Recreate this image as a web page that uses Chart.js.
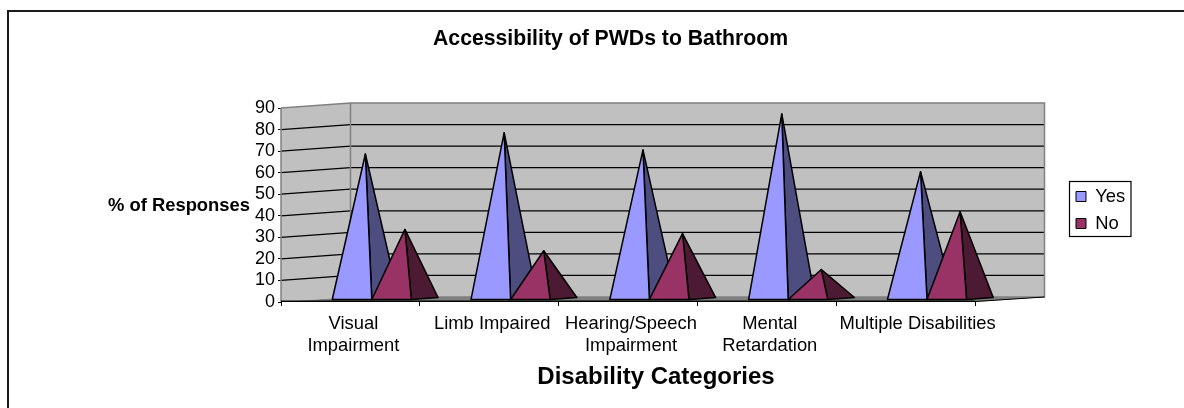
<!DOCTYPE html>
<html><head><meta charset="utf-8">
<style>html,body{margin:0;padding:0;background:#fff;overflow:hidden}canvas{display:block}</style>
<script src="https://cdn.jsdelivr.net/npm/chart.js@4"></script></head>
<body><canvas id="c" width="1184" height="408"></canvas>
<script>
const categories=[["Visual","Impairment"],"Limb Impaired",["Hearing/Speech","Impairment"],["Mental","Retardation"],"Multiple Disabilities"];
const yesValues=[67.5,77.4,69.4,86.1,59.3];
const noValues=[32.5,22.6,30.6,13.9,40.7];
const seriesNames=["Yes","No"];
const frontColors=["#9999FF","#993366"];
const sideColors=["#4D4D80","#4D1A33"];
const chartTitle="Accessibility of PWDs to Bathroom";
const xTitle="Disability Categories";
const yTitle="% of Responses";
const FONT='"Liberation Sans", Arial, sans-serif';
const DEPTH_X=69.5, DEPTH_Y=5;
const NEAR=0.308, FAR=0.692;

class PyramidController extends Chart.BarController{
  draw(){
    if(this.index!==0) return;
    const ch=this.chart,c=ch.ctx;
    c.save();c.lineJoin="round";c.lineWidth=1.5;c.strokeStyle="#000";
    ch.data.datasets.forEach((d,i)=>{
      ch.getDatasetMeta(i).data.forEach(e=>{
        const hw=e.width/2, fy=e.base-DEPTH_Y*NEAR-.5, by=e.base-DEPTH_Y*FAR-.5;
        const fl=e.x-hw+DEPTH_X*NEAR, fr=e.x+hw+DEPTH_X*NEAR, br=e.x+hw+DEPTH_X*FAR;
        const ax=e.x+DEPTH_X*.5, ay=e.y-DEPTH_Y*.5;
        c.fillStyle=d.sideColor;
        c.beginPath();c.moveTo(fr,fy);c.lineTo(br,by);c.lineTo(ax,ay);c.closePath();c.fill();c.stroke();
        c.fillStyle=d.backgroundColor;
        c.beginPath();c.moveTo(fl,fy);c.lineTo(fr,fy);c.lineTo(ax,ay);c.closePath();c.fill();c.stroke();
      });
    });
    c.restore();
  }
}
PyramidController.id="pyramid";
PyramidController.defaults=Chart.BarController.defaults;
PyramidController.overrides=Chart.BarController.overrides;
Chart.register(PyramidController);

const wall3d={id:"wall3d",
  afterLayout(ch){
    const lg=ch.legend; lg.left=1067.4;lg.right=1131;lg.top=178.7;lg.bottom=245;
    const tb=ch.titleBlock; tb.left=433;tb.right=788;
  },
  beforeDraw(ch){
    const items=ch.scales.x.getLabelItems();
    if(items[4]&&!items[4].shifted){items[4].options.translation[0]+=9;items[4].shifted=true;}
    const c=ch.ctx;c.save();c.fillStyle="#fff";c.fillRect(0,0,ch.width,ch.height);
    c.lineWidth=2;c.strokeStyle="#1a1a1a";
    c.beginPath();c.moveTo(8,ch.height);c.lineTo(8,11);c.lineTo(ch.width,11);c.stroke();
    c.fillStyle="#000";c.textBaseline="middle";
    c.font="bold 18.4px "+FONT;c.textAlign="center";c.fillText(yTitle,179,206);
    c.font="bold 24px "+FONT;c.fillText(xTitle,656,377.5);
    c.strokeStyle="#000";c.lineWidth=1.2;c.strokeRect(1069.5,181.5,61.5,55);
    c.restore();
  },
  beforeDatasetsDraw(ch){
    const c=ch.ctx,{left:l,right:r,top:t,bottom:b}=ch.chartArea,y=ch.scales.y;
    c.save();
    c.fillStyle="#C0C0C0";
    c.beginPath();c.moveTo(l,b);c.lineTo(l+DEPTH_X,b-DEPTH_Y);c.lineTo(r+DEPTH_X,b-DEPTH_Y);c.lineTo(r+DEPTH_X,t-DEPTH_Y);c.lineTo(l+DEPTH_X,t-DEPTH_Y);c.lineTo(l,t);c.closePath();c.fill();
    c.fillStyle="#808080";
    c.beginPath();c.moveTo(l,b);c.lineTo(l+DEPTH_X,b-DEPTH_Y);c.lineTo(r+DEPTH_X,b-DEPTH_Y);c.lineTo(r,b);c.closePath();c.fill();
    c.lineWidth=1.2;c.strokeStyle="#000";
    y.ticks.forEach(k=>{ if(k.value===y.min||k.value===y.max) return;
      const p=y.getPixelForValue(k.value);
      c.beginPath();c.moveTo(l,p);c.lineTo(l+DEPTH_X,p-DEPTH_Y);c.lineTo(r+DEPTH_X,p-DEPTH_Y);c.stroke();});
    c.strokeStyle="#808080";c.lineWidth=1.5;
    c.beginPath();c.moveTo(l,t);c.lineTo(l+DEPTH_X,t-DEPTH_Y);c.lineTo(r+DEPTH_X,t-DEPTH_Y);c.lineTo(r+DEPTH_X,b-DEPTH_Y);c.lineTo(l+DEPTH_X,b-DEPTH_Y);c.stroke();
    c.beginPath();c.moveTo(l+DEPTH_X,t-DEPTH_Y);c.lineTo(l+DEPTH_X,b-DEPTH_Y);c.stroke();
    c.beginPath();c.moveTo(l,t);c.lineTo(l,b);c.stroke();
    c.restore();
  },
  afterDatasetsDraw(ch){
    const c=ch.ctx,{left:l,right:r,bottom:b}=ch.chartArea;
    c.save();c.strokeStyle="#000";c.lineWidth=1;
    c.beginPath();c.moveTo(r,b-.5);c.lineTo(r+DEPTH_X,b-DEPTH_Y);c.stroke();
    c.lineWidth=1.6;c.beginPath();c.moveTo(l,b-.7);c.lineTo(r,b-.7);c.stroke();
    c.restore();
  }
};

const tickLine={drawOnChartArea:false,drawTicks:true,color:"#000",lineWidth:1};
new Chart(document.getElementById("c"),{type:"pyramid",
  data:{labels:categories,datasets:[
    {label:seriesNames[0],data:yesValues,backgroundColor:frontColors[0],sideColor:sideColors[0],borderColor:"#000",borderWidth:1,clip:false},
    {label:seriesNames[1],data:noValues,backgroundColor:frontColors[1],sideColor:sideColors[1],borderColor:"#000",borderWidth:1,clip:false}]},
  options:{responsive:false,animation:false,
    layout:{padding:{left:221,right:209,top:0,bottom:46}},
    datasets:{pyramid:{categoryPercentage:.57,barPercentage:1}},
    plugins:{
      tooltip:{enabled:false},
      title:{display:true,text:chartTitle,color:"#000",font:{family:FONT,size:21.5,weight:"bold",lineHeight:1.2},padding:{top:26,bottom:56.2}},
      legend:{display:true,position:"chartArea",align:"start",labels:{boxWidth:10,boxHeight:10,padding:8.6,color:"#000",font:{family:FONT,size:18.4}}}
    },
    scales:{
      x:{afterFit(s){s.height=60;},grid:{...tickLine,tickLength:4},border:{display:false},
         ticks:{autoSkip:false,maxRotation:0,labelOffset:3,padding:7,color:"#000",font:{family:FONT,size:18.4}}},
      y:{min:0,max:90,afterFit(s){s.width=60;},grid:{...tickLine,tickLength:3},border:{display:false},
         ticks:{autoSkip:false,stepSize:10,padding:3,color:"#000",font:{family:FONT,size:18}}}
    }},
  plugins:[wall3d]});
</script></body></html>
